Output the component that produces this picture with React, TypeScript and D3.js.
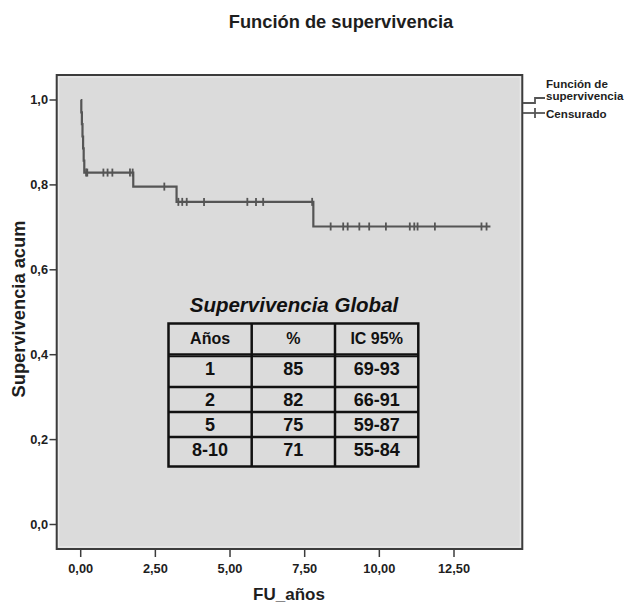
import React from "react";
import * as d3 from "d3";

// Kaplan-Meier step points
const eventTimes = [0, 0.02, 0.04, 0.06, 0.08, 0.1, 0.12, 1.76, 3.21, 7.79];
const survival = [1, 0.971, 0.943, 0.914, 0.886, 0.857, 0.829, 0.796, 0.76, 0.702];
const endTime = 13.72;
const censorTimes = [
  0.18, 0.22, 0.76, 0.9, 1.06, 1.65, 1.74, 2.8, 3.27, 3.4, 3.55, 4.13, 5.58,
  5.87, 6.11, 7.75, 8.37, 8.79, 8.94, 9.33, 9.66, 10.22, 11.02, 11.17, 11.28,
  11.86, 13.42, 13.59,
];
const xTicks = [0, 2.5, 5, 7.5, 10, 12.5];
const yTicks = [0, 0.2, 0.4, 0.6, 0.8, 1.0];

const tableHeader = ["Años", "%", "IC 95%"];
const tableYears = ["1", "2", "5", "8-10"];
const tablePct = ["85", "82", "75", "71"];
const tableCI = ["69-93", "66-91", "59-87", "55-84"];

const FONT = "'Liberation Sans', Arial, Helvetica, sans-serif";
const TXT = "#1e1e1e";

export default function App() {
  const x = d3.scaleLinear().domain([0, 12.5]).range([80.7, 454]);
  const y = d3.scaleLinear().domain([0, 1]).range([524.5, 100]);
  const fmtX = (v: number) => v.toFixed(2).replace(".", ",");
  const fmtY = (v: number) => v.toFixed(1).replace(".", ",");

  const pts: [number, number][] = eventTimes.map((t, i) => [t, survival[i]]);
  pts.push([endTime, survival[survival.length - 1]]);
  const line = d3
    .line<[number, number]>()
    .x((d) => x(d[0]))
    .y((d) => y(d[1]))
    .curve(d3.curveStepAfter);

  const survAt = (t: number) => {
    const i = d3.bisectRight(eventTimes, t) - 1;
    return survival[Math.max(0, i)];
  };

  const frame = { l: 56.7, r: 522.3, t: 75, b: 549 };

  // table layout
  const colX = [168.5, 251.7, 335, 418.3];
  const rowY = [323.5, 354.5, 387, 412, 437, 466.5];
  const rowBase = [343.5, 374.5, 405.5, 430.5, 456];
  const colC = [0, 1, 2].map((i) => (colX[i] + colX[i + 1]) / 2);
  const rows = tableYears.map((yr, i) => [yr, tablePct[i], tableCI[i]]);

  return (
    <svg width={626} height={604} style={{ position: "absolute", left: 0, top: 0 }}>
      <rect width={626} height={604} fill="#fff" />
      <text x={341} y={28} textAnchor="middle" fontFamily={FONT} fontWeight="bold" fontSize={18.3} fill={TXT}>
        Función de supervivencia
      </text>
      {/* plot area */}
      <rect x={frame.l} y={frame.t} width={frame.r - frame.l} height={frame.b - frame.t} fill="#dbdbdb" />
      <rect x={frame.l + 2} y={frame.t + 2} width={frame.r - frame.l - 4} height={frame.b - frame.t - 4} fill="none" stroke="#eeeeee" strokeWidth={1} />
      <rect x={frame.l} y={frame.t} width={frame.r - frame.l} height={frame.b - frame.t} fill="none" stroke="#3c3c3c" strokeWidth={2} />

      {/* y axis */}
      {yTicks.map((v) => (
        <g key={"y" + v}>
          <line x1={49.5} x2={frame.l} y1={y(v)} y2={y(v)} stroke="#3c3c3c" strokeWidth={1.5} />
          <text x={48} y={y(v) + 4.4} textAnchor="end" fontFamily={FONT} fontWeight="bold" fontSize={12.8} fill={TXT}>
            {fmtY(v)}
          </text>
        </g>
      ))}
      <text
        transform={`translate(25,309) rotate(-90)`}
        textAnchor="middle"
        fontFamily={FONT}
        fontWeight="bold"
        fontSize={18.3}
        fill={TXT}
      >
        Supervivencia acum
      </text>

      {/* x axis */}
      {xTicks.map((v) => (
        <g key={"x" + v}>
          <line x1={x(v)} x2={x(v)} y1={frame.b} y2={557} stroke="#3c3c3c" strokeWidth={1.5} />
          <text x={x(v)} y={572.5} textAnchor="middle" fontFamily={FONT} fontWeight="bold" fontSize={12.8} fill={TXT}>
            {fmtX(v)}
          </text>
        </g>
      ))}
      <text x={289} y={600} textAnchor="middle" fontFamily={FONT} fontWeight="bold" fontSize={17} fill={TXT}>
        FU_años
      </text>

      {/* curve */}
      <path d={line(pts) || ""} fill="none" stroke="#555" strokeWidth={2.2} />
      {censorTimes.map((t, i) => (
        <line key={"c" + i} x1={x(t)} x2={x(t)} y1={y(survAt(t)) - 4} y2={y(survAt(t)) + 4} stroke="#555" strokeWidth={1.8} />
      ))}

      {/* legend */}
      <path d="M523,103 H535 V98 H545" fill="none" stroke="#555" strokeWidth={1.8} />
      <text x={546} y={88} fontFamily={FONT} fontWeight="bold" fontSize={11.6} fill={TXT}>
        Función de
      </text>
      <text x={546} y={99.5} fontFamily={FONT} fontWeight="bold" fontSize={11.6} fill={TXT}>
        supervivencia
      </text>
      <line x1={523} x2={545} y1={113} y2={113} stroke="#555" strokeWidth={1.8} />
      <line x1={535} x2={535} y1={108} y2={118} stroke="#555" strokeWidth={1.8} />
      <text x={546} y={117.5} fontFamily={FONT} fontWeight="bold" fontSize={11.6} fill={TXT}>
        Censurado
      </text>

      {/* table */}
      <text x={294} y={312} textAnchor="middle" fontFamily={FONT} fontWeight="bold" fontStyle="italic" fontSize={20.5} fill="#111">
        Supervivencia Global
      </text>
      <g stroke="#111" strokeWidth={2.5} fill="none">
        <rect x={colX[0]} y={rowY[0]} width={colX[3] - colX[0]} height={rowY[5] - rowY[0]} />
        {colX.slice(1, 3).map((cx) => (
          <line key={"cx" + cx} x1={cx} x2={cx} y1={rowY[0]} y2={rowY[5]} />
        ))}
        {rowY.slice(1, 5).map((ry) => (
          <line key={"ry" + ry} x1={colX[0]} x2={colX[3]} y1={ry} y2={ry} />
        ))}
        <line x1={colX[0]} x2={colX[3]} y1={rowY[1] + 2} y2={rowY[1] + 2} strokeWidth={1.5} />
      </g>
      {tableHeader.map((h, i) => (
        <text key={"h" + i} x={colC[i]} y={rowBase[0]} textAnchor="middle" fontFamily={FONT} fontWeight="bold" fontSize={16} fill="#111">
          {h}
        </text>
      ))}
      {rows.map((r, ri) =>
        r.map((c, ci) => (
          <text key={"r" + ri + ci} x={colC[ci]} y={rowBase[ri + 1]} textAnchor="middle" fontFamily={FONT} fontWeight="bold" fontSize={18} fill="#111">
            {c}
          </text>
        ))
      )}
    </svg>
  );
}
